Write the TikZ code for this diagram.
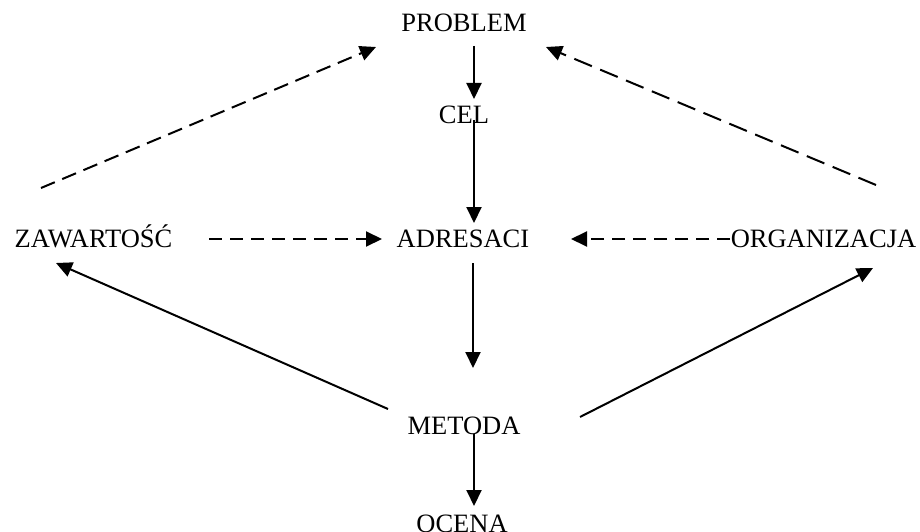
\documentclass[tikz,border=0pt]{standalone}
\usepackage{fontspec}
\setmainfont{Liberation Serif}
\usetikzlibrary{arrows.meta,calc}
\begin{document}
\begin{tikzpicture}[x=1pt,y=-1pt,
  lbl/.style={anchor=base,inner sep=0pt,font=\fontsize{26.5}{31}\selectfont},
  arr/.style={line width=2pt,-{Triangle[length=16pt,width=15pt]}},
  dsh/.style={arr,dash pattern=on 13pt off 8pt},
  dshlong/.style={arr,dash pattern=on 19pt off 9pt}]
\useasboundingbox (0,0) rectangle (920,532);
\node[lbl] (P) at (464,32) {PROBLEM};
\node[lbl] (C) at (464,124) {CEL};
\node[lbl] (A) at (463,247) {ADRESACI};
\node[lbl] (Z) at (93.5,247) {ZAWARTOŚĆ};
\node[lbl] (O) at (823.5,247) {ORGANIZACJA};
\node[lbl] (M) at (464,434) {METODA};
\node[lbl] (E) at (462,532) {OCENA};
% vertical chain
\draw[arr] ($(P.base)+(10,14)$) -- ($(C.base)+(10,-25)$);
\draw[arr] ($(C.base)+(10,-4)$) -- ($(A.base)+(11,-24)$);
\draw[arr] ($(A.base)+(10,16)$) -- ($(M.base)+(9,-66)$);
\draw[arr] ($(M.base)+(10,0)$) -- ($(E.base)+(12,-26)$);
% horizontal dashed
\draw[dsh] ($(Z.base)+(115.5,-8)$) -- ($(A.base)+(-81,-8)$);
\draw[dsh] ($(O.base)+(-93.5,-8)$) -- ($(A.base)+(108,-8)$);
% diagonal dashed
\draw[dsh,dash pattern=on 15pt off 8pt] ($(Z.base)+(-52.5,-59)$) -- ($(P.base)+(-88,15)$);
\draw[dshlong] ($(O.base)+(52.5,-62)$) -- ($(P.base)+(82,15)$);
% diagonal solid
\draw[arr] ($(M.base)+(-76,-25)$) -- ($(Z.base)+(-37.5,16)$);
\draw[arr] ($(M.base)+(116,-17)$) -- ($(O.base)+(49.5,21)$);
\end{tikzpicture}
\end{document}
